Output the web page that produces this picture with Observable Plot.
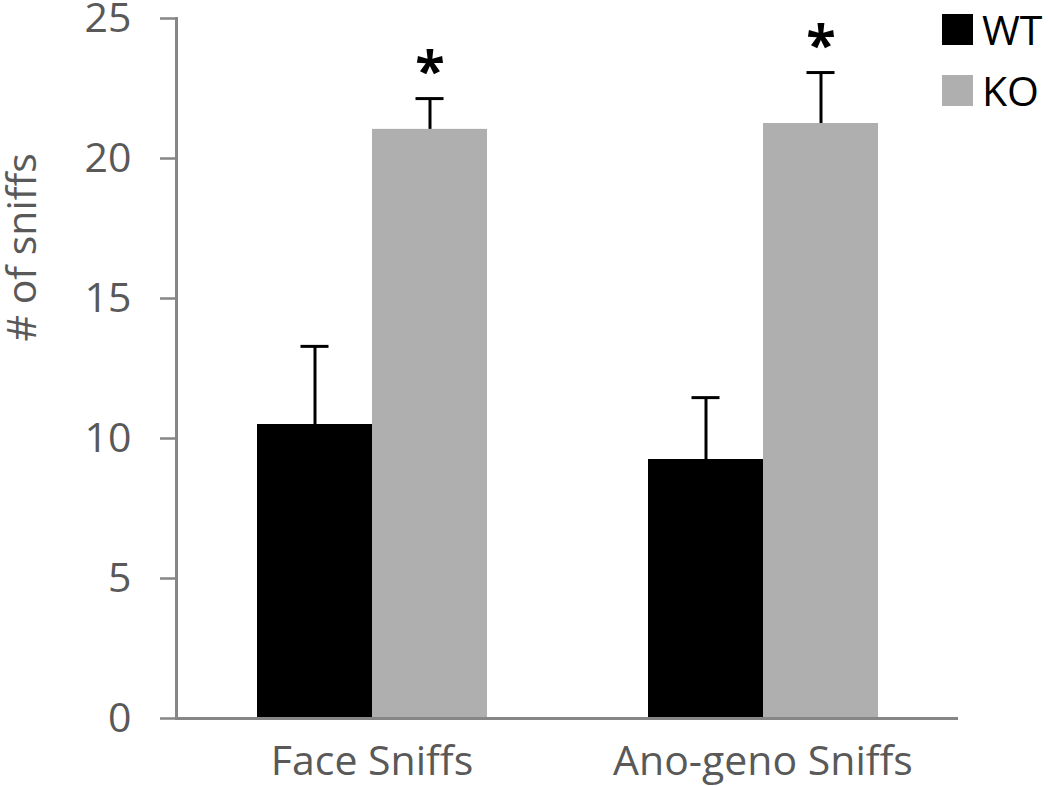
<!DOCTYPE html>
<html>
<head>
<meta charset="utf-8">
<script src="https://cdn.jsdelivr.net/npm/d3@7"></script>
<script src="https://cdn.jsdelivr.net/npm/@observablehq/plot@0.6"></script>
<style>
  html, body { margin: 0; padding: 0; background: #fff; }
  #wrap { position: relative; width: 1050px; height: 786px; font-family: "Open Sans", sans-serif; }
  #legend { position: absolute; left: 942px; top: 14px; }
  .row { display: flex; align-items: center; height: 31px; margin-bottom: 30px; }
  .sw { width: 31px; height: 31px; margin-right: 9px; }
  .lab { font-size: 41px; color: #000; line-height: 31px; }
</style>
</head>
<body>
<div id="wrap"><div id="legend"></div></div>
<script>
// ---- data ----
const categories = ["Face Sniffs", "Ano-geno Sniffs"];
const genotypes = ["WT", "KO"];
const colors = ["#000000", "#afafaf"];
const wtMeans = [10.5, 9.25];
const wtSem = [2.79, 2.21];
const koMeans = [21.04, 21.25];
const koSem = [1.10, 1.82];
const wtSig = ["", ""];
const koSig = ["*", "*"];
const yTicks = [0, 5, 10, 15, 20, 25];
const yLabel = "# of sniffs";

const rows = [];
categories.forEach((c, i) => {
  rows.push({category: c, genotype: "WT", mean: wtMeans[i], hi: wtMeans[i] + wtSem[i], sig: wtSig[i]});
  rows.push({category: c, genotype: "KO", mean: koMeans[i], hi: koMeans[i] + koSem[i], sig: koSig[i]});
});

const axisColor = "#868686";
const textColor = "#595959";

const chart = Plot.plot({
  width: 1050,
  height: 786,
  marginLeft: 175,
  marginRight: 92,
  marginTop: 18,
  marginBottom: 68,
  style: {fontFamily: "'Open Sans', sans-serif", background: "white"},
  fx: {domain: categories, paddingInner: 0, paddingOuter: 0, axis: null},
  x: {domain: genotypes, paddingInner: 0, paddingOuter: 0.70, axis: null},
  y: {domain: [0, 25], axis: null},
  color: {domain: genotypes, range: colors},
  marks: [
    Plot.barY(rows, {fx: "category", x: "genotype", y: "mean", fill: "genotype"}),
    Plot.ruleX(rows, {fx: "category", x: "genotype", y1: "mean", y2: "hi", stroke: "black", strokeWidth: 3}),
    Plot.tickY(rows, {fx: "category", x: "genotype", y: "hi", stroke: "black", strokeWidth: 3, insetLeft: 43.5, insetRight: 43.5}),
    Plot.text(rows, {fx: "category", x: "genotype", y: "hi", text: "sig", fontSize: 54, fontWeight: "bold", fill: "black", dy: -26}),
    Plot.ruleY([0], {stroke: axisColor, strokeWidth: 3}),
    Plot.frame({anchor: "left", facetAnchor: "left", stroke: axisColor, strokeWidth: 3}),
    Plot.axisY({ticks: yTicks, tickSize: 16, tickPadding: 29, stroke: axisColor, strokeWidth: 2.5, fill: textColor, fontSize: 41, label: null}),
    Plot.axisFx({anchor: "bottom", tickSize: 0, tickPadding: 27, fill: textColor, fontSize: 41, label: null}),
    Plot.text([yLabel], {frameAnchor: "left", facetAnchor: "left", rotate: -90, dx: -154, dy: -27, fontSize: 41, fill: textColor})
  ]
});

const wrap = document.getElementById("wrap");
wrap.insertBefore(chart, wrap.firstChild);

const legend = document.getElementById("legend");
genotypes.forEach((g, i) => {
  const r = document.createElement("div");
  r.className = "row";
  const s = document.createElement("div");
  s.className = "sw";
  s.style.background = colors[i];
  const t = document.createElement("span");
  t.className = "lab";
  t.textContent = g;
  r.appendChild(s); r.appendChild(t);
  legend.appendChild(r);
});
</script>
</body>
</html>
